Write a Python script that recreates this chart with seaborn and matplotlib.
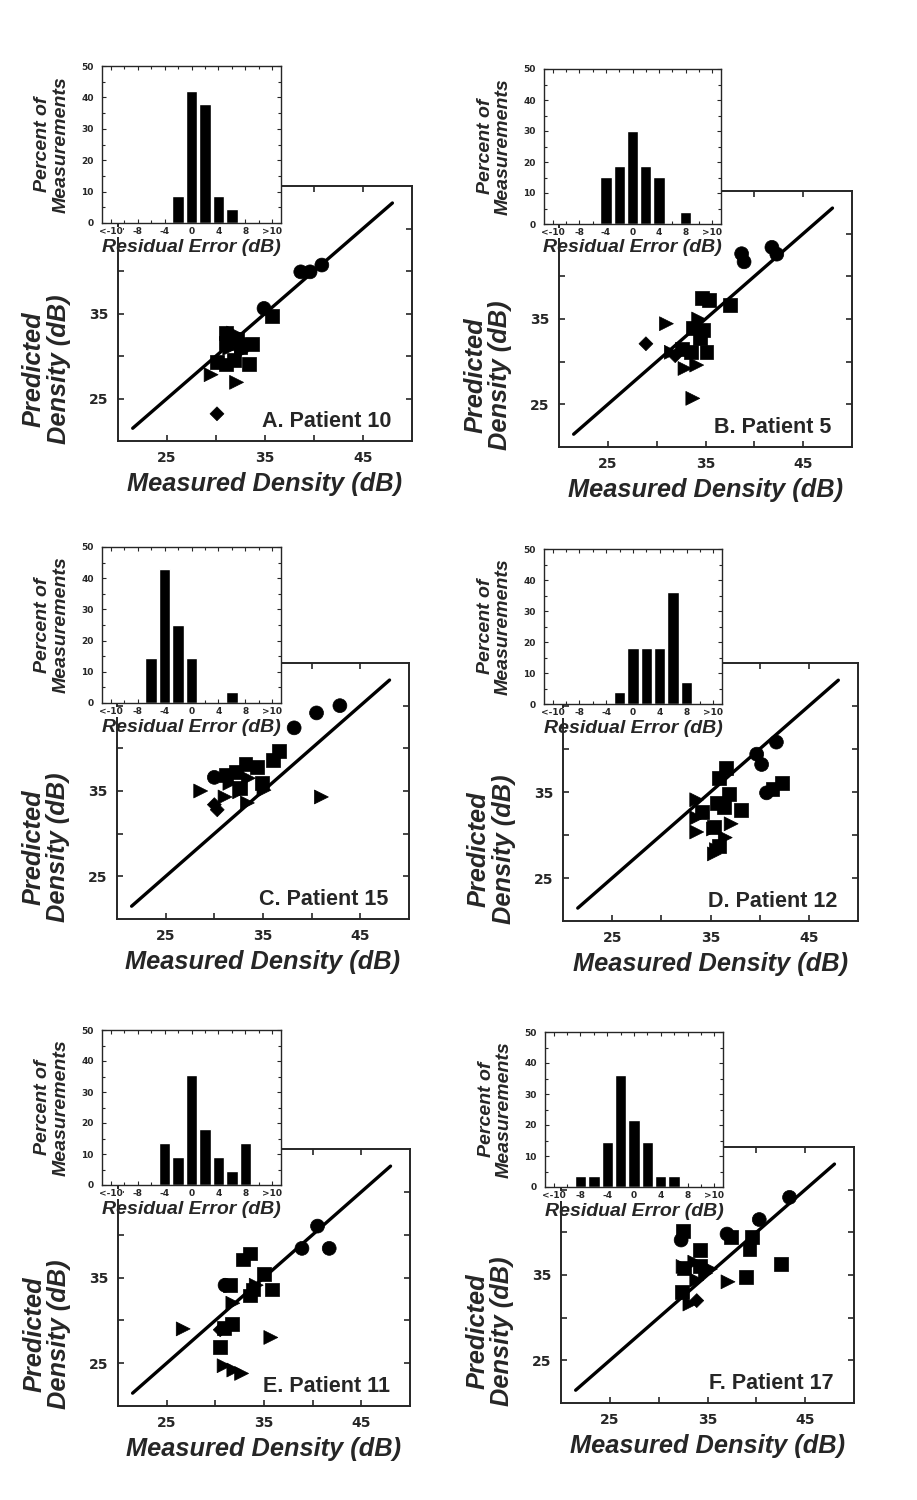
import matplotlib

matplotlib.use("Agg")
import matplotlib.pyplot as plt
import pandas as pd
import seaborn as sns
from matplotlib.ticker import MultipleLocator

# --- values ---
# scatter: measured vs predicted density (dB) and marker shape per point
A_measured = [38.65, 39.6, 40.8, 34.9, 35.7, 31.0, 31.0, 31.0, 30.1, 32.1, 33.7, 33.4, 31.8, 32.5,
              31.8, 32.6, 31.4, 29.5, 32.1, 32.8, 30.1]
A_predicted = [39.9, 39.9, 40.7, 35.6, 34.7, 32.7, 31.5, 29.0, 29.3, 32.0, 31.45, 29.1, 29.5, 31.0,
               32.7, 30.5, 30.9, 27.8, 26.9, 31.8, 23.2]
A_shape = ["circle"] * 4 + ["square"] * 10 + ["triangle"] * 6 + ["diamond"]

B_measured = [38.7, 38.95, 41.8, 42.3, 34.6, 35.4, 37.5, 33.75, 34.7, 34.4, 33.5, 35.1, 32.55,
              31.0, 34.3, 31.5, 32.9, 34.1, 33.7, 28.9, 31.9]
B_predicted = [42.65, 41.7, 43.4, 42.6, 37.5, 37.2, 36.6, 33.9, 33.75, 32.8, 31.1, 31.1, 31.5,
               34.45, 35.0, 31.1, 29.2, 29.6, 25.7, 32.1, 30.7]
B_shape = ["circle"] * 4 + ["square"] * 9 + ["triangle"] * 6 + ["diamond"] * 2

C_measured = [38.2, 40.5, 42.9, 30.0, 36.6, 36.0, 33.2, 34.4, 32.2, 31.2, 34.9, 32.6,
              28.6, 41.0, 31.1, 33.5, 32.6, 35.1, 33.4, 31.6, 30.0, 30.3]
C_predicted = [42.4, 44.15, 45.0, 36.6, 39.7, 38.6, 38.2, 37.8, 37.2, 36.9, 35.9, 35.3,
               35.0, 34.3, 34.3, 36.5, 34.9, 35.1, 33.6, 35.9, 33.4, 32.8]
C_shape = ["circle"] * 4 + ["square"] * 8 + ["triangle"] * 8 + ["diamond"] * 2

D_measured = [41.7, 39.7, 40.2, 40.7, 42.3, 41.3, 36.6, 35.9, 36.9, 35.7, 36.4, 38.1, 34.1, 35.4, 35.9,
              33.6, 33.6, 33.6, 35.3, 37.1, 36.5, 35.6, 35.4]
D_predicted = [40.8, 39.4, 38.2, 34.9, 36.0, 35.3, 37.8, 36.6, 34.8, 33.7, 33.3, 32.9, 32.7, 30.9, 28.7,
               34.1, 32.0, 30.35, 30.7, 31.3, 29.7, 28.3, 27.8]
D_shape = ["circle"] * 4 + ["square"] * 11 + ["triangle"] * 8

E_measured = [40.5, 38.9, 41.7, 31.0, 32.8, 33.6, 35.0, 35.8, 33.9, 33.6, 31.5, 31.7, 30.9, 30.5,
              26.7, 31.8, 34.2, 35.7, 30.9, 31.9, 32.7, 30.5]
E_predicted = [41.0, 38.4, 38.4, 34.1, 37.1, 37.8, 35.4, 33.6, 33.6, 32.9, 34.1, 29.6, 29.1, 26.9,
               29.0, 32.0, 34.1, 28.0, 24.7, 24.2, 23.8, 28.9]
E_shape = ["circle"] * 4 + ["square"] * 10 + ["triangle"] * 7 + ["diamond"]

F_measured = [43.4, 40.3, 37.0, 32.3, 32.5, 37.4, 39.6, 39.3, 34.2, 42.5, 38.9, 32.6, 34.2, 32.4,
              32.5, 33.7, 34.8, 37.1, 33.2, 33.9, 35.3, 33.9]
F_predicted = [44.1, 41.5, 39.8, 39.1, 40.2, 39.5, 39.5, 38.0, 37.9, 36.3, 34.8, 35.8, 36.1, 33.0,
               36.0, 36.5, 35.2, 34.2, 31.6, 34.4, 35.7, 32.0]
F_shape = ["circle"] * 4 + ["square"] * 10 + ["triangle"] * 7 + ["diamond"]

# histograms: residual error bin centre (dB) and percent of measurements
A_bins = [-2, 0, 2, 4, 6]
A_pct = [8.7, 42.0, 38.0, 8.7, 4.3]
B_bins = [-4, -2, 0, 2, 4, 8]
B_pct = [15.3, 18.8, 30.1, 18.8, 15.3, 3.8]
C_bins = [-6, -4, -2, 0, 6]
C_pct = [14.3, 43.0, 25.0, 14.3, 3.6]
D_bins = [-2, 0, 2, 4, 6, 8]
D_pct = [3.8, 18.2, 18.2, 18.2, 36.0, 7.2]
E_bins = [-4, -2, 0, 2, 4, 6, 8]
E_pct = [13.4, 9.1, 35.5, 18.0, 9.1, 4.6, 13.4]
F_bins = [-8, -6, -4, -2, 0, 2, 4, 6]
F_pct = [3.7, 3.7, 14.5, 36.1, 21.6, 14.5, 3.7, 3.7]

panel_labels = ["A. Patient 10", "B. Patient 5", "C. Patient 15",
                "D. Patient 12", "E. Patient 11", "F. Patient 17"]

# identity line ends (dB)
line_ends = [21.5, 48.0]

hist_tick_pos = [-12, -8, -4, 0, 4, 8, 12]
hist_tick_labels = ["<-10", "-8", "-4", "0", "4", "8", ">10"]

MARKERS = {"circle": "o", "square": "s", "triangle": ">", "diamond": (4, 0, 0)}

W, H = 917, 1500
LABEL_FONT = "Liberation Sans"
TICK_FONT = "DejaVu Sans"


def fig_rect(l, t, r, b):
    return [l / W, 1 - b / H, (r - l) / W, (b - t) / H]


def draw_panel(fig, sbox, hbox, measured, predicted, shape, bins, pct, label):
    # --- main scatter ---
    ax = fig.add_axes(fig_rect(*sbox))
    df = pd.DataFrame({"measured": measured, "predicted": predicted, "shape": shape})
    sns.lineplot(x=line_ends, y=line_ends, ax=ax, color="black", linewidth=2.4)
    sns.scatterplot(data=df, x="measured", y="predicted", style="shape", markers=MARKERS,
                    color="black", edgecolor="black", linewidth=0.5, s=100,
                    legend=False, ax=ax, zorder=3)
    ax.set_xlim(20, 50)
    ax.set_ylim(20, 50)
    ax.set_xticks([25, 30, 35, 40, 45])
    ax.set_xticklabels(["25", "", "35", "", "45"], fontweight="bold", family=TICK_FONT)
    # the 45 label sits under the inset in the original
    ax.set_yticks([25, 30, 35, 40, 45])
    ax.set_yticklabels(["25", "", "35", "", ""], fontweight="bold", family=TICK_FONT)
    ax.tick_params(direction="in", top=True, right=True, length=4, width=1.2,
                   labelsize=10, pad=7)
    for sp in ax.spines.values():
        sp.set_linewidth(1.4)
    ax.set_xlabel("Measured Density (dB)", fontsize=18.3, fontweight="bold",
                  fontstyle="italic", family=LABEL_FONT)
    ax.xaxis.set_label_coords(0.5, -0.12)
    ax.set_ylabel("Predicted\nDensity (dB)", fontsize=18.3, fontweight="bold",
                  fontstyle="italic", family=LABEL_FONT, linespacing=1.05)
    ax.yaxis.set_label_coords(-0.16, 0.28)
    ax.text(0.93, 0.055, label, transform=ax.transAxes, ha="right", va="baseline",
            fontsize=15.5, fontweight="bold", family=LABEL_FONT)

    # --- residual histogram inset ---
    axh = fig.add_axes(fig_rect(*hbox), zorder=5)
    axh.set_facecolor("white")
    sns.barplot(x=bins, y=pct, native_scale=True, color="black", saturation=1,
                width=0.85, errorbar=None, ax=axh)
    axh.set_xlim(-13.3, 13.3)
    axh.set_ylim(0, 50)
    axh.set_xticks(hist_tick_pos)
    axh.set_xticklabels(hist_tick_labels, fontweight="bold", family=TICK_FONT)
    for lbl in axh.get_xticklabels():
        lbl.set_bbox(dict(facecolor="white", edgecolor="none", pad=0.6))
    axh.set_yticks([0, 10, 20, 30, 40, 50])
    axh.set_yticklabels(["0", "10", "20", "30", "40", "50"], fontweight="bold", family=TICK_FONT)
    axh.xaxis.set_minor_locator(MultipleLocator(2))
    axh.yaxis.set_minor_locator(MultipleLocator(5))
    axh.tick_params(which="both", direction="in", top=True, right=True, width=0.8)
    axh.tick_params(which="major", length=3, labelsize=6.5)
    axh.tick_params(axis="x", which="major", pad=3)
    axh.tick_params(axis="y", which="major", pad=6)
    axh.tick_params(which="minor", length=2)
    for sp in axh.spines.values():
        sp.set_linewidth(1.0)
    axh.set_xlabel("Residual Error (dB)", fontsize=14, fontweight="bold",
                   fontstyle="italic", family=LABEL_FONT)
    axh.xaxis.set_label_coords(0.5, -0.1)
    axh.set_ylabel("Percent of\nMeasurements", fontsize=14, fontweight="bold",
                   fontstyle="italic", family=LABEL_FONT, linespacing=1.1)
    axh.yaxis.set_label_coords(-0.18, 0.5)


def main():
    sns.set_style("ticks")
    plt.rcParams["font.family"] = [LABEL_FONT, "DejaVu Sans"]

    fig = plt.figure(figsize=(W / 100, H / 100), dpi=100)

    scatter_boxes = [(118, 186, 412, 441), (559, 191, 852, 447),
                     (117, 663, 409, 919), (563, 663, 858, 921),
                     (118, 1149, 410, 1406), (561, 1147, 854, 1403)]
    hist_boxes = [(102, 66, 281, 223), (544, 69, 721, 224),
                  (102, 547, 281, 703), (544, 549, 722, 704),
                  (102, 1030, 281, 1185), (545, 1032, 723, 1187)]

    panels = [
        (A_measured, A_predicted, A_shape, A_bins, A_pct),
        (B_measured, B_predicted, B_shape, B_bins, B_pct),
        (C_measured, C_predicted, C_shape, C_bins, C_pct),
        (D_measured, D_predicted, D_shape, D_bins, D_pct),
        (E_measured, E_predicted, E_shape, E_bins, E_pct),
        (F_measured, F_predicted, F_shape, F_bins, F_pct),
    ]

    for sbox, hbox, data, label in zip(scatter_boxes, hist_boxes, panels, panel_labels):
        draw_panel(fig, sbox, hbox, *data, label)

    fig.savefig("out.png", dpi=100)


if __name__ == "__main__":
    main()
